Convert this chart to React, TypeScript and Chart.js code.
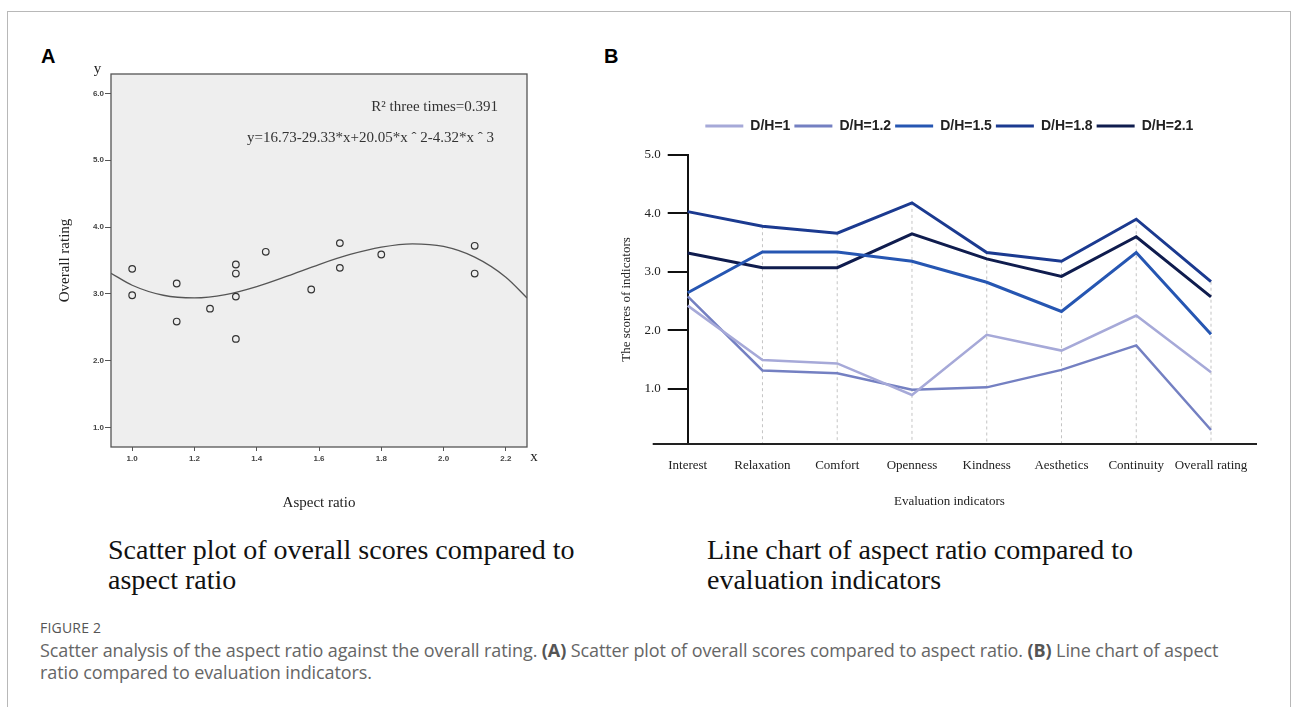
import React, { useEffect, useRef } from "react";
import { Chart, registerables } from "chart.js";

Chart.register(...registerables);

// ---------- Panel A data ----------
const aspectRatio = [1.0, 1.0, 1.143, 1.143, 1.25, 1.333, 1.333, 1.333, 1.333, 1.429, 1.575, 1.667, 1.667, 1.8, 2.1, 2.1];
const overallRating = [3.375, 2.98, 3.156, 2.587, 2.78, 3.44, 3.305, 2.96, 2.327, 3.63, 3.066, 3.76, 3.39, 3.59, 3.72, 3.305];
const fitX = [0.932, 1.0, 1.1, 1.2, 1.3, 1.4, 1.5, 1.6, 1.7, 1.8, 1.9, 2.0, 2.1, 2.2, 2.268];
const fitY = [3.31, 3.13, 2.98, 2.94, 2.99, 3.11, 3.27, 3.44, 3.59, 3.70, 3.75, 3.71, 3.55, 3.25, 2.94];
const aspectTicks = [1.0, 1.2, 1.4, 1.6, 1.8, 2.0, 2.2];
const ratingTicks = [1, 2, 3, 4, 5, 6];

// ---------- Panel B data ----------
const indicators = ["Interest", "Relaxation", "Comfort", "Openness", "Kindness", "Aesthetics", "Continuity", "Overall rating"];
const dh10 = [2.42, 1.49, 1.43, 0.89, 1.92, 1.65, 2.25, 1.28];
const dh12 = [2.58, 1.31, 1.26, 0.98, 1.02, 1.32, 1.74, 0.29];
const dh15 = [2.64, 3.34, 3.34, 3.18, 2.82, 2.32, 3.33, 1.93];
const dh18 = [4.03, 3.78, 3.66, 4.18, 3.33, 3.18, 3.90, 2.83];
const dh21 = [3.32, 3.07, 3.07, 3.65, 3.22, 2.92, 3.60, 2.57];
const seriesNames = ["D/H=1", "D/H=1.2", "D/H=1.5", "D/H=1.8", "D/H=2.1"];
const seriesColors = ["#a6a9d8", "#7480c2", "#2656b2", "#1b3a90", "#0f1c4e"];
const seriesWidths = [2.5, 2.5, 3, 3, 3];
const scoreTicks = [1, 2, 3, 4, 5];

const SERIF = "'Liberation Serif', 'Times New Roman', serif";
const SANS = "'Liberation Sans', Arial, sans-serif";

const scatterDecor = {
  id: "scatterDecor",
  beforeDraw(chart: any) {
    const { ctx, chartArea } = chart;
    const { left, top, right, bottom } = chartArea;
    ctx.save();
    ctx.fillStyle = "#eeeeee";
    ctx.fillRect(left, top, right - left, bottom - top);
    ctx.restore();
  },
  afterDraw(chart: any) {
    const { ctx, chartArea } = chart;
    const { left, top, right, bottom } = chartArea;
    ctx.save();
    ctx.strokeStyle = "#555";
    ctx.lineWidth = 1.3;
    ctx.strokeRect(left, top, right - left, bottom - top);
    ctx.fillStyle = "#222";
    ctx.font = `15px ${SERIF}`;
    ctx.textAlign = "center";
    ctx.textBaseline = "alphabetic";
    ctx.fillText("y", left - 13.5, top - 1);
    ctx.textBaseline = "middle";
    ctx.fillText("x", right + 7, bottom + 10);
    ctx.fillStyle = "#333";
    ctx.textAlign = "right";
    ctx.fillText("R\u00B2 three times=0.391", right - 29, top + 33);
    ctx.fillText("y=16.73-29.33*x+20.05*x \u02C6 2-4.32*x \u02C6 3", right - 33, top + 64);
    ctx.restore();
  },
};

const lineDecor = {
  id: "lineDecor",
  afterLayout(chart: any) {
    const lg = chart.legend;
    if (!lg) return;
    const ca = chart.chartArea;
    const dx = (ca.left + ca.right) / 2 - (lg.left + lg.right) / 2;
    lg.left += dx;
    lg.right += dx;
    lg.top -= 12;
    lg.bottom -= 12;
  },
  beforeDatasetsDraw(chart: any) {
    const { ctx, chartArea, scales } = chart;
    const xs = scales.x;
    const ys = scales.y;
    ctx.save();
    ctx.setLineDash([3, 3]);
    ctx.strokeStyle = "#c4c4c4";
    ctx.lineWidth = 1;
    indicators.forEach((_, i) => {
      if (i === 0) return;
      const top = Math.max(...chart.data.datasets.map((d: any) => d.data[i]));
      const px = xs.getPixelForValue(i);
      ctx.beginPath();
      ctx.moveTo(px, ys.getPixelForValue(top));
      ctx.lineTo(px, chartArea.bottom);
      ctx.stroke();
    });
    ctx.restore();
  },
  afterDraw(chart: any) {
    const { ctx, chartArea } = chart;
    ctx.save();
    ctx.strokeStyle = "#222";
    ctx.lineWidth = 2;
    ctx.beginPath();
    ctx.moveTo(chartArea.left - 35, chartArea.bottom);
    ctx.lineTo(chartArea.right + 46, chartArea.bottom);
    ctx.stroke();
    ctx.restore();
  },
};

function ScatterPanel() {
  const ref = useRef<HTMLCanvasElement>(null);
  useEffect(() => {
    if (!ref.current) return;
    const chart = new Chart(ref.current, {
      type: "scatter",
      data: {
        datasets: [
          {
            type: "line",
            data: fitX.map((x, i) => ({ x, y: fitY[i] })),
            borderColor: "#555",
            borderWidth: 1.3,
            pointRadius: 0,
            cubicInterpolationMode: "monotone",
            fill: false,
            order: 2,
          } as any,
          {
            type: "scatter",
            data: aspectRatio.map((x, i) => ({ x, y: overallRating[i] })),
            pointRadius: 3.3,
            pointBorderColor: "#333",
            pointBackgroundColor: "rgba(0,0,0,0)",
            pointBorderWidth: 1.2,
            order: 1,
          } as any,
        ],
      },
      options: {
        animation: false,
        responsive: false,
        maintainAspectRatio: false,
        layout: { padding: { top: 34, right: 53, left: 0, bottom: 0 } },
        plugins: { legend: { display: false }, tooltip: { enabled: false } },
        scales: {
          x: {
            type: "linear",
            min: 0.932,
            max: 2.268,
            afterBuildTicks: (s: any) => {
              s.ticks = aspectTicks.map((v) => ({ value: v }));
            },
            afterFit: (s: any) => {
              s.height = 83;
            },
            grid: { drawOnChartArea: false, drawTicks: true, tickLength: 4, color: "#555" },
            border: { display: false },
            ticks: {
              font: { family: SANS, size: 8, weight: "bold" },
              color: "#444",
              padding: 3,
              maxRotation: 0,
              autoSkip: false,
              callback: (v: any) => Number(v).toFixed(1),
            },
            title: {
              display: true,
              text: "Aspect ratio",
              font: { family: SERIF, size: 15 },
              color: "#222",
              padding: { top: 0, bottom: 18 },
            },
          },
          y: {
            type: "linear",
            min: 0.71,
            max: 6.29,
            afterBuildTicks: (s: any) => {
              s.ticks = ratingTicks.map((v) => ({ value: v }));
            },
            afterFit: (s: any) => {
              s.width = 91;
            },
            grid: { drawOnChartArea: false, drawTicks: true, tickLength: 6, color: "#555" },
            border: { display: false },
            ticks: {
              font: { family: SANS, size: 8, weight: "bold" },
              color: "#444",
              padding: 1,
              callback: (v: any) => Number(v).toFixed(1),
            },
            title: {
              display: true,
              text: "Overall rating",
              font: { family: SERIF, size: 15 },
              color: "#222",
              padding: { top: 36, bottom: 0 },
            },
          },
        },
      } as any,
      plugins: [scatterDecor],
    });
    return () => chart.destroy();
  }, []);
  return <canvas ref={ref} width={560} height={490} style={{ position: "absolute", left: 20, top: 40 }} />;
}

function LinePanel() {
  const ref = useRef<HTMLCanvasElement>(null);
  useEffect(() => {
    if (!ref.current) return;
    const values = [dh10, dh12, dh15, dh18, dh21];
    const chart = new Chart(ref.current, {
      type: "line",
      data: {
        labels: indicators,
        datasets: values.map((vals, i) => ({
          label: seriesNames[i],
          data: vals,
          borderColor: seriesColors[i],
          backgroundColor: seriesColors[i],
          borderWidth: seriesWidths[i],
          pointRadius: 0,
          tension: 0,
          fill: false,
        })),
      },
      options: {
        animation: false,
        responsive: false,
        maintainAspectRatio: false,
        layout: { padding: { top: 32, left: 0, right: 69, bottom: 0 } },
        plugins: {
          tooltip: { enabled: false },
          legend: {
            display: true,
            position: "top",
            align: "center",
            labels: {
              boxWidth: 38,
              boxHeight: 3,
              padding: 4,
              color: "#222",
              font: { family: SANS, size: 14, weight: "bold" },
              generateLabels: (c: any) =>
                (Chart.defaults.plugins.legend.labels.generateLabels as any)(c).map((l: any) => ({ ...l, lineWidth: 0 })),
            },
          },
        },
        scales: {
          x: {
            type: "category",
            offset: false,
            grid: { display: false },
            border: { display: false },
            afterFit: (s: any) => {
              s.height = 76;
            },
            ticks: {
              font: { family: SERIF, size: 13 },
              color: "#222",
              padding: 6,
              maxRotation: 0,
              autoSkip: false,
            },
            title: {
              display: true,
              text: "Evaluation indicators",
              font: { family: SERIF, size: 13 },
              color: "#222",
              padding: { top: 0, bottom: 11 },
            },
          },
          y: {
            type: "linear",
            min: 0.05,
            max: 5,
            afterBuildTicks: (s: any) => {
              s.ticks = scoreTicks.map((v) => ({ value: v }));
            },
            afterFit: (s: any) => {
              s.width = 97.7;
            },
            grid: { drawOnChartArea: false, drawTicks: true, tickLength: 20, color: "#111", lineWidth: 2 },
            border: { display: true, color: "#111", width: 2 },
            ticks: {
              font: { family: SERIF, size: 13 },
              color: "#222",
              padding: 7,
              callback: (v: any) => Number(v).toFixed(1),
            },
            title: {
              display: true,
              text: "The scores of indicators",
              font: { family: SERIF, size: 13 },
              color: "#222",
              padding: { top: 29, bottom: 0 },
            },
          },
        },
      } as any,
      plugins: [lineDecor],
    });
    return () => chart.destroy();
  }, []);
  return <canvas ref={ref} width={690} height={425} style={{ position: "absolute", left: 590, top: 95 }} />;
}

export default function App() {
  return (
    <div
      style={{
        position: "absolute",
        left: 0,
        top: 0,
        width: 1296,
        height: 707,
        overflow: "hidden",
        background: "#fff",
      }}
    >
      <div
        style={{
          position: "absolute",
          left: 7,
          top: 11,
          width: 1284,
          height: 800,
          border: "1px solid #b8b8b8",
          boxSizing: "border-box",
        }}
      />
      <div style={{ position: "absolute", left: 41, top: 46, font: `bold 20px/20px ${SANS}`, color: "#000" }}>A</div>
      <div style={{ position: "absolute", left: 604, top: 46, font: `bold 20px/20px ${SANS}`, color: "#000" }}>B</div>
      <ScatterPanel />
      <LinePanel />
      <div
        style={{
          position: "absolute",
          left: 108,
          top: 535,
          font: `28px/30px ${SERIF}`,
          color: "#111",
          whiteSpace: "nowrap",
        }}
      >
        Scatter plot of overall scores compared to
        <br />
        aspect ratio
      </div>
      <div
        style={{
          position: "absolute",
          left: 707,
          top: 535,
          font: `28px/30px ${SERIF}`,
          color: "#111",
          whiteSpace: "nowrap",
        }}
      >
        Line chart of aspect ratio compared to
        <br />
        evaluation indicators
      </div>
      <div
        style={{
          position: "absolute",
          left: 40,
          top: 619,
          font: `14px/18px 'Open Sans', sans-serif`,
          color: "#555",
          letterSpacing: 0.2,
        }}
      >
        FIGURE 2
      </div>
      <div
        style={{
          position: "absolute",
          left: 40,
          top: 639,
          font: `18px/22px 'Open Sans', sans-serif`,
          color: "#666",
          letterSpacing: -0.1,
          whiteSpace: "nowrap",
        }}
      >
        Scatter analysis of the aspect ratio against the overall rating. <b style={{ color: "#555" }}>(A)</b> Scatter plot of
        overall scores compared to aspect ratio. <b style={{ color: "#555" }}>(B)</b> Line chart of aspect
        <br />
        ratio compared to evaluation indicators.
      </div>
    </div>
  );
}
